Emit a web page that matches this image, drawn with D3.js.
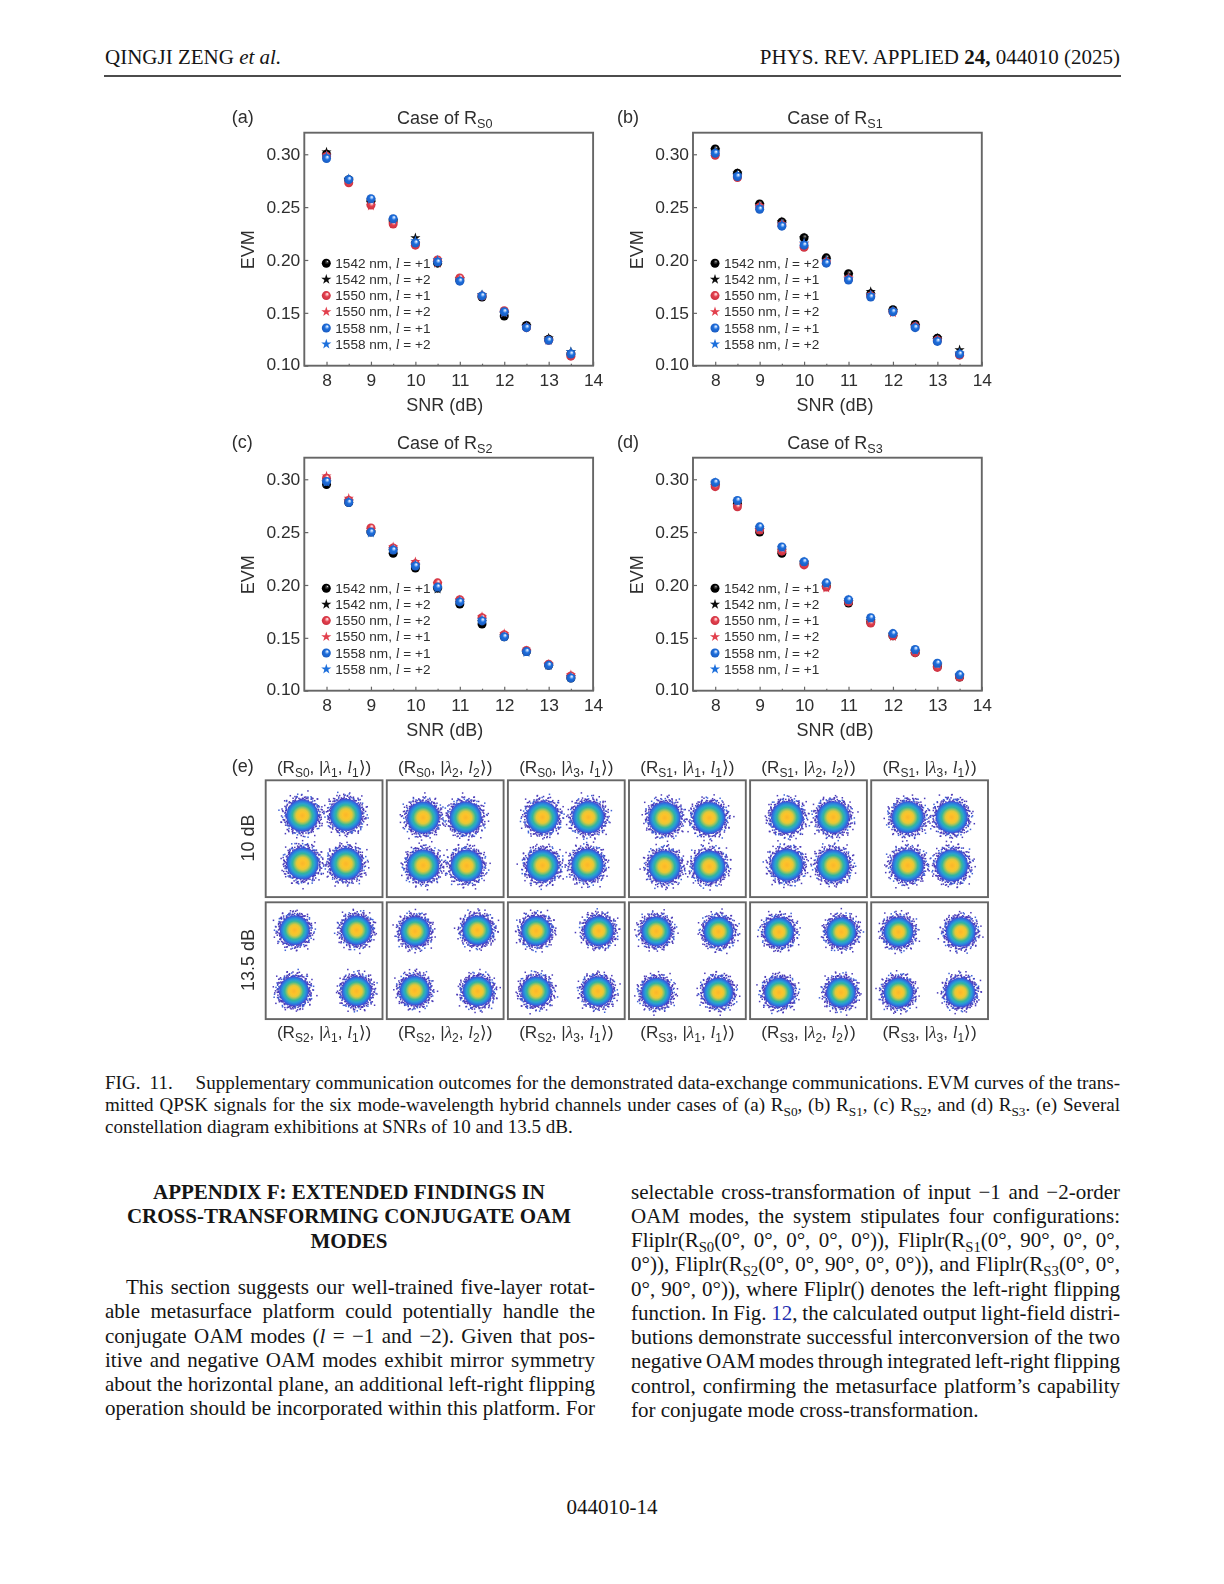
<!DOCTYPE html>
<html><head><meta charset="utf-8">
<script src="https://cdn.jsdelivr.net/npm/d3@7/dist/d3.min.js"></script>
<style>html,body{margin:0;padding:0;background:#fff}svg{display:block}text{white-space:pre}</style>
</head><body><div id="c"></div>
<script>
// ---------- chart data ----------
const snr=[8,8.5,9,9.5,10,10.5,11,11.5,12,12.5,13,13.5];
const a_black_c=[.300,.276,.256,.237,.216,.197,.181,.165,.147,.138,.125,.111];
const a_black_s=[.302,.276,.254,.237,.221,.197,.182,.167,.149,.138,.126,.113];
const a_red_c=[.298,.273,.252,.234,.214,.200,.183,.166,.152,.136,.124,.109];
const a_red_s=[.299,.275,.251,.234,.215,.197,.182,.166,.150,.137,.124,.111];
const a_blue_c=[.296,.276,.258,.239,.216,.198,.180,.166,.151,.136,.124,.111];
const a_blue_s=[.298,.277,.257,.238,.218,.200,.181,.167,.150,.137,.124,.113];
const b_black_c=[.305,.282,.253,.236,.221,.202,.187,.168,.153,.139,.126,.111];
const b_black_s=[.304,.282,.252,.236,.221,.200,.186,.170,.152,.138,.126,.115];
const b_red_c=[.299,.278,.250,.233,.212,.198,.182,.166,.151,.137,.124,.110];
const b_red_s=[.301,.279,.251,.234,.215,.198,.183,.167,.150,.137,.124,.111];
const b_blue_c=[.301,.279,.248,.232,.214,.197,.181,.165,.151,.136,.123,.111];
const b_blue_s=[.302,.280,.250,.234,.216,.199,.182,.167,.152,.137,.124,.112];
const c_black_c=[.295,.278,.250,.230,.216,.197,.182,.163,.151,.137,.124,.112];
const c_black_s=[.297,.279,.250,.232,.218,.196,.183,.165,.152,.137,.124,.113];
const c_red_c=[.301,.280,.254,.235,.220,.202,.186,.169,.153,.138,.125,.114];
const c_red_s=[.303,.282,.252,.236,.222,.201,.186,.170,.154,.138,.125,.115];
const c_blue_c=[.298,.278,.250,.233,.218,.198,.184,.166,.151,.137,.124,.112];
const c_blue_s=[.297,.279,.249,.234,.219,.197,.185,.167,.151,.136,.124,.113];
const d_black_c=[.295,.277,.250,.230,.220,.199,.183,.165,.152,.136,.123,.113];
const d_black_s=[.296,.278,.252,.232,.221,.200,.184,.166,.153,.137,.124,.114];
const d_red_c=[.293,.274,.252,.232,.219,.198,.184,.164,.152,.136,.122,.113];
const d_red_s=[.294,.275,.252,.233,.220,.197,.184,.165,.151,.137,.123,.113];
const d_blue_c=[.297,.280,.255,.236,.222,.202,.186,.169,.154,.139,.126,.115];
const d_blue_s=[.297,.279,.254,.235,.222,.201,.186,.168,.154,.138,.125,.115];
const wavelengths=["1542 nm","1542 nm","1550 nm","1550 nm","1558 nm","1558 nm"];
const a_orders=["+1","+2","+1","+2","+1","+2"];
const b_orders=["+2","+1","+1","+2","+1","+2"];
const c_orders=["+1","+2","+2","+1","+1","+2"];
const d_orders=["+1","+2","+1","+2","+2","+1"];
const xTickValues=[8,9,10,11,12,13,14];
const xMinorValues=[8.5,9.5,10.5,11.5,12.5,13.5];
const yTickValues=[.10,.15,.20,.25,.30];
// constellation centres (I,Q) per diagram, row 10 dB then row 13.5 dB
const top_labels=["(R_{S0}, |*λ*_{1}, *l*_{1}⟩)","(R_{S0}, |*λ*_{2}, *l*_{2}⟩)","(R_{S0}, |*λ*_{3}, *l*_{1}⟩)","(R_{S1}, |*λ*_{1}, *l*_{1}⟩)","(R_{S1}, |*λ*_{2}, *l*_{2}⟩)","(R_{S1}, |*λ*_{3}, *l*_{1}⟩)"];
const bottom_labels=["(R_{S2}, |*λ*_{1}, *l*_{1}⟩)","(R_{S2}, |*λ*_{2}, *l*_{2}⟩)","(R_{S2}, |*λ*_{3}, *l*_{1}⟩)","(R_{S3}, |*λ*_{1}, *l*_{1}⟩)","(R_{S3}, |*λ*_{2}, *l*_{2}⟩)","(R_{S3}, |*λ*_{3}, *l*_{1}⟩)"];
const row_labels=["10 dB","13.5 dB"];
const centres_10dB=[
 [[-.374,.396],[.374,.408],[-.368,-.424],[.374,-.430]],
 [[-.378,.362],[.350,.362],[-.378,-.458],[.368,-.464]],
 [[-.408,.368],[.378,.368],[-.408,-.458],[.362,-.448]],
 [[-.390,.356],[.374,.356],[-.390,-.476],[.374,-.476]],
 [[-.368,.368],[.424,.368],[-.368,-.448],[.424,-.458]],
 [[-.374,.368],[.378,.368],[-.374,-.458],[.384,-.458]]];
const centres_135dB=[
 [[-.504,.522],[.556,.522],[-.516,-.522],[.556,-.522]],
 [[-.516,.504],[.550,.522],[-.522,-.510],[.556,-.522]],
 [[-.516,.510],[.556,.510],[-.516,-.522],[.540,-.522]],
 [[-.532,.504],[.532,.498],[-.532,-.544],[.528,-.544]],
 [[-.504,.492],[.562,.492],[-.504,-.544],[.556,-.544]],
 [[-.532,.492],[.532,.492],[-.532,-.544],[.528,-.544]]];
// outer halo of one cluster: hand-written sample of angle (deg) and distance (cluster radii)
const haloAngles=[3,11,19,27,34,41,52,58,66,71,83,88,97,104,112,118,127,133,141,150,156,163,172,179,188,193,202,208,217,224,231,239,246,254,262,269,277,283,291,298,306,313,321,329,336,344,351,358,
 7,23,38,47,62,78,93,108,122,137,147,168,184,198,213,228,242,258,273,288,302,318,333,348,
 15,31,55,75,100,115,130,160,175,205,220,250,265,295,310,340,355];
const haloDists=[.82,1.02,.9,1.16,.86,1.05,.93,1.24,.84,1.0,1.12,.88,.96,1.2,.83,1.07,.91,1.3,.87,1.01,.95,1.17,.85,1.09,.92,1.26,.89,1.03,.98,1.14,.84,1.22,.9,1.04,.87,1.11,.97,1.33,.86,1.06,.94,1.19,.83,1.0,1.13,.89,1.08,.96,
 .92,.98,1.1,.88,1.0,.94,1.05,.9,.99,1.08,.93,1.02,.87,1.12,.96,.91,1.03,1.15,.89,.97,1.06,.92,1.01,.95,
 .86,1.07,.9,1.18,.94,1.0,1.1,.88,1.04,.93,1.21,.97,.85,1.09,1.02,.91,1.14];
// page text
const caption_lines=["FIG.  11.     Supplementary communication outcomes for the demonstrated data-exchange communications. EVM curves of the trans-",
 "mitted QPSK signals for the six mode-wavelength hybrid channels under cases of (a) R_{S0}, (b) R_{S1}, (c) R_{S2}, and (d) R_{S3}. (e) Several",
 "constellation diagram exhibitions at SNRs of 10 and 13.5 dB."];
const heading_lines=["APPENDIX F: EXTENDED FINDINGS IN","CROSS-TRANSFORMING CONJUGATE OAM","MODES"];
const left_lines=["This section suggests our well-trained five-layer rotat-","able metasurface platform could potentially handle the","conjugate OAM modes (*l* = −1 and −2). Given that pos-","itive and negative OAM modes exhibit mirror symmetry","about the horizontal plane, an additional left-right flipping","operation should be incorporated within this platform. For"];
const right_lines=["selectable cross-transformation of input −1 and −2-order","OAM modes, the system stipulates four configurations:","Fliplr(R_{S0}(0°, 0°, 0°, 0°, 0°)), Fliplr(R_{S1}(0°, 90°, 0°, 0°,","0°)), Fliplr(R_{S2}(0°, 0°, 90°, 0°, 0°)), and Fliplr(R_{S3}(0°, 0°,","0°, 90°, 0°)), where Fliplr() denotes the left-right flipping","function. In Fig. [12], the calculated output light-field distri-","butions demonstrate successful interconversion of the two","negative OAM modes through integrated left-right flipping","control, confirming the metasurface platform’s capability","for conjugate mode cross-transformation."];

// ---------- drawing ----------
const SERIF='"Liberation Serif",serif', SANS='"Liberation Sans",Arial,sans-serif';
const svg=d3.select("#c").append("svg").attr("width",1224).attr("height",1584).style("background","#fff");
const defs=svg.append("defs");
defs.append("filter").attr("id","soft").attr("x","-5%").attr("y","-5%").attr("width","110%").attr("height","110%")
 .append("feGaussianBlur").attr("stdDeviation",0.42);
const colors={black:["#5a5a5a","#060606","#000"],red:["#ffc4c8","#e2404e","#c92f3e"],blue:["#bcd8ff","#1f6fdc","#1858bd"]};
Object.entries(colors).forEach(([k,v])=>{
 const g=defs.append("radialGradient").attr("id","ball-"+k).attr("cx",.5).attr("cy",.5).attr("r",.55).attr("fx",.62).attr("fy",.3);
 [[0,"#fff"],[.14,v[0]],[.45,v[1]],[1,v[2]]].forEach(s=>g.append("stop").attr("offset",s[0]).attr("stop-color",s[1]));
});
const blob=defs.append("radialGradient").attr("id","blob");
[[0,"#fbb62c"],[.22,"#fdc42a"],[.38,"#e3c838"],[.5,"#8fc267"],[.62,"#34b69c"],[.76,"#2a9fd2"],[.9,"#2e72de"],[1,"#4349d2"]]
 .forEach(s=>blob.append("stop").attr("offset",s[0]).attr("stop-color",s[1]));

function rich(t,s,fs,opt={}){
 const re=/_\{([^}]*)\}|\*([^*]+)\*|\[([^\]]+)\]/g;let last=0,m,shift=0;
 const add=(txt,o={})=>{ if(!txt)return;
  const want=o.sub?fs*.24:0, sp=t.append("tspan").text(txt);
  if(want!==shift){sp.attr("dy",want-shift);shift=want;}
  if(o.sub)sp.attr("font-size",fs*.7);
  if(o.it)sp.attr("font-style","italic").attr("font-family",opt.itFamily||SERIF);
  if(o.link)sp.attr("fill","#1f2fb0");
 };
 while((m=re.exec(s))){add(s.slice(last,m.index));
  if(m[1]!==undefined)add(m[1],{sub:true});else if(m[2]!==undefined)add(m[2],{it:true});else add(m[3],{link:true});
  last=re.lastIndex;}
 add(s.slice(last));return t;
}
const plain=s=>s.replace(/_\{([^}]*)\}/g,"$1").replace(/[*\[\]]/g,"");
function line(g,s,x,y,fs,width){
 const t=g.append("text").attr("x",x).attr("y",y).attr("font-size",fs).attr("font-family",SERIF).attr("fill","#151515");
 rich(t,s,fs);
 if(width){const n=(plain(s).match(/ /g)||[]).length,len=t.node().getComputedTextLength();
  t.attr("word-spacing",(width-len)/n);}
 return t;
}

// page furniture
const PAGE_FS=21;
const page=svg.append("g");
line(page,"QINGJI ZENG *et al.*",105,63.8,PAGE_FS);
const h2=page.append("text").attr("x",1120).attr("y",63.8).attr("text-anchor","end").attr("font-size",PAGE_FS).attr("font-family",SERIF).attr("fill","#151515");
h2.append("tspan").text("PHYS. REV. APPLIED ");h2.append("tspan").attr("font-weight","bold").text("24,");h2.append("tspan").text(" 044010 (2025)");
page.append("line").attr("x1",104).attr("x2",1121).attr("y1",76).attr("y2",76).attr("stroke","#111").attr("stroke-width",1.4);
caption_lines.forEach((s,i)=>line(page,s,105,1089+i*22,19.05,i<2?1015:null));
heading_lines.forEach((s,i)=>line(page,s,349,1199+i*24.4,PAGE_FS).attr("font-weight","bold").attr("text-anchor","middle"));
left_lines.forEach((s,i)=>line(page,s,i?105:126,1294+i*24.25,PAGE_FS,i?490:469));
right_lines.forEach((s,i)=>line(page,s,631,1198.6+i*24.25,PAGE_FS,i<9?489:null));
page.append("text").attr("x",612).attr("y",1514).attr("text-anchor","middle").attr("font-size",PAGE_FS).attr("font-family",SERIF).attr("fill","#151515").text("044010-14");

// figure
const fig=svg.append("g").attr("filter","url(#soft)").attr("font-family",SANS);
const INK="#2e2e2e",FRAME="#666";
const star=d3.symbol().type(d3.symbolStar).size(32)();
const seriesStyle=[["black","c"],["black","s"],["red","c"],["red","s"],["blue","c"],["blue","s"]];
const drawOrder=[1,0,3,2,5,4];
const starFill={black:"#0a0a0a",red:"#e2404e",blue:"#1f6fdc"};
function mark(g,style,x,y){
 if(style[1]==="c")g.append("circle").attr("cx",x).attr("cy",y).attr("r",4.5).attr("fill",`url(#ball-${style[0]})`);
 else g.append("path").attr("d",star).attr("transform",`translate(${x},${y})`).attr("fill",starFill[style[0]]);
}
function panel(letter,sub,left,top,series,orders,letterOffset,titleOffset){
 const W=288.8,H=233,g=fig.append("g");
 const x=d3.scaleLinear().domain([7.5,14]).range([left,left+W]);
 const y=d3.scaleLinear().domain([.10,.3204]).range([top+H,top]);
 g.append("g").attr("transform",`translate(0,${top+H})`).call(d3.axisBottom(x).tickValues(xTickValues).tickSize(-4).tickPadding(8).tickFormat(d3.format("d")));
 g.append("g").attr("transform",`translate(0,${top+H})`).call(d3.axisBottom(x).tickValues(xMinorValues).tickSize(-2).tickFormat(""));
 const ay=g.append("g").attr("transform",`translate(${left},0)`).call(d3.axisLeft(y).tickValues(yTickValues).tickSize(-4).tickPadding(4).tickFormat(d3.format(".2f")));
 g.selectAll(".domain").remove();
 g.selectAll(".tick line").attr("stroke",FRAME).attr("stroke-width",1.2);
 g.selectAll(".tick text").attr("font-size",17.4).attr("font-family",SANS).attr("fill",INK);
 ay.selectAll(".tick text").filter(d=>d===.10).attr("dy","0.2em");
 g.append("rect").attr("x",left).attr("y",top).attr("width",W).attr("height",H).attr("fill","none").attr("stroke",FRAME).attr("stroke-width",1.9);
 drawOrder.forEach(i=>snr.forEach((s,j)=>mark(g,seriesStyle[i],x(s),y(series[i][j]))));
 orders.forEach((o,i)=>{
  const ly=top+130.5+i*16.2;
  mark(g,seriesStyle[i],left+22,ly);
  const t=g.append("text").attr("x",left+31).attr("y",ly+4.6).attr("font-size",13.6).attr("fill",INK);
  rich(t,`${wavelengths[i]}, *l* = ${o}`,13.6);
 });
 const cx=left+titleOffset;
 const tt=g.append("text").attr("x",cx).attr("y",top-9).attr("text-anchor","middle").attr("font-size",18).attr("fill",INK);
 rich(tt,`Case of R_{${sub}}`,18);
 g.append("text").attr("x",cx).attr("y",top+H+45.5).attr("text-anchor","middle").attr("font-size",18).attr("fill",INK).text("SNR (dB)");
 g.append("text").attr("transform",`translate(${left-50.5},${top+117}) rotate(-90)`).attr("text-anchor","middle").attr("font-size",18).attr("fill",INK).text("EVM");
 g.append("text").attr("x",left-letterOffset).attr("y",top-9.5).attr("font-size",18).attr("fill",INK).text(`(${letter})`);
}
panel("a","S0",304.3,132.7,[a_black_c,a_black_s,a_red_c,a_red_s,a_blue_c,a_blue_s],a_orders,72.5,140.5);
panel("b","S1",693,132.7,[b_black_c,b_black_s,b_red_c,b_red_s,b_blue_c,b_blue_s],b_orders,76,142);
panel("c","S2",304.3,457.7,[c_black_c,c_black_s,c_red_c,c_red_s,c_blue_c,c_blue_s],c_orders,72.5,140.5);
panel("d","S3",693,457.7,[d_black_c,d_black_s,d_red_c,d_red_s,d_blue_c,d_blue_s],d_orders,76,142);

// constellations
const col=d3.scaleBand().domain(d3.range(6)).range([265.7,988]).paddingInner(4.3/121.1).paddingOuter(0).align(0);
const BOX=col.bandwidth(), rows=[780.3,902.3];
const toRad=d=>d*Math.PI/180;
const haloPasses=[[.95,0],[.84,29],[.78,61]];
function diagram(cx0,cy0,centres,R,cellIdx){
 const g=fig.append("g");
 const ix=d3.scaleLinear().domain([-1,1]).range([cx0,cx0+BOX]);
 const qy=d3.scaleLinear().domain([-1,1]).range([cy0+BOX,cy0]);
 centres.forEach((c,k)=>{
  const px=ix(c[0]),py=qy(c[1]);
  const turn=k*83+cellIdx*47, flip=(k+cellIdx)%2?-1:1;
  haloPasses.forEach(([scale,extra])=>{
   const pts=haloAngles.map((a,i)=>[toRad(flip*a+turn+extra),haloDists[i]*R*scale]);
   g.selectAll(null).data(pts).join("rect")
    .attr("x",d=>px+Math.cos(d[0])*d[1]-.75).attr("y",d=>py+Math.sin(d[0])*d[1]-.75)
    .attr("width",1.5).attr("height",1.5).attr("fill",(d,i)=>i%5===0?"#3f63d8":"#4a3bb8");
  });
  g.append("circle").attr("cx",px).attr("cy",py).attr("r",R*.8).attr("fill","url(#blob)");
 });
 g.append("rect").attr("x",cx0).attr("y",cy0).attr("width",BOX).attr("height",BOX).attr("fill","none").attr("stroke",FRAME).attr("stroke-width",1.9);
}
d3.range(6).forEach(i=>{
 diagram(col(i),rows[0],centres_10dB[i],20,i);
 diagram(col(i),rows[1],centres_135dB[i],18.5,i+6);
 const tx=col(i)+BOX/2;
 rich(fig.append("text").attr("x",tx).attr("y",772.5).attr("text-anchor","middle").attr("font-size",17.1).attr("fill",INK),top_labels[i],17.1);
 rich(fig.append("text").attr("x",tx).attr("y",1038).attr("text-anchor","middle").attr("font-size",17.1).attr("fill",INK),bottom_labels[i],17.1);
});
row_labels.forEach((s,i)=>fig.append("text").attr("transform",`translate(253.8,${[838,960][i]}) rotate(-90)`).attr("text-anchor","middle").attr("font-size",18).attr("fill",INK).text(s));
fig.append("text").attr("x",231.8).attr("y",772).attr("font-size",18).attr("fill",INK).text("(e)");
</script></body></html>
